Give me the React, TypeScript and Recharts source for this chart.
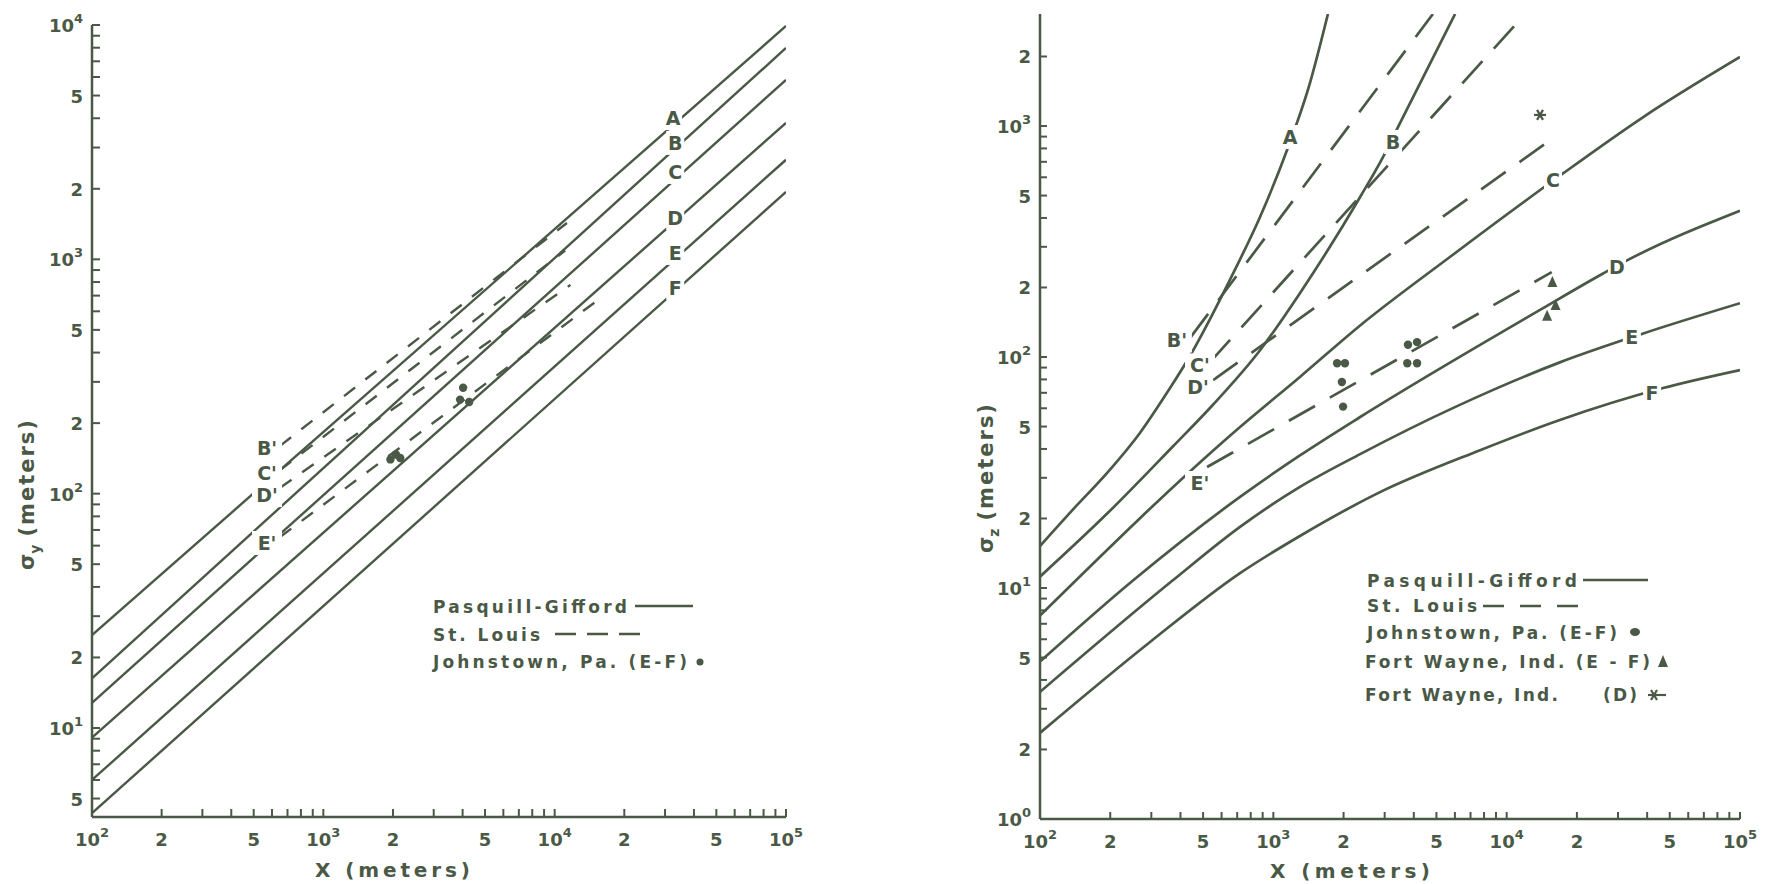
import { ComposedChart, Line, Scatter, XAxis, YAxis } from "recharts";

const INK = "#4a5946";
const FONT = "'DejaVu Sans', sans-serif";

type Pt = [number, number];

// ---- left panel: sigma_y, Pasquill-Gifford (solid) ----
const syA: Pt[] = [[100, 24.9], [100000, 9900]];
const syB: Pt[] = [[100, 16.3], [100000, 7980]];
const syC: Pt[] = [[100, 12.8], [100000, 5830]];
const syD: Pt[] = [[100, 9.1], [100000, 3820]];
const syE: Pt[] = [[100, 6.0], [100000, 2660]];
const syF: Pt[] = [[100, 4.33], [100000, 1940]];
// St. Louis (dashed)
const syB2: Pt[] = [[650, 160], [11300, 1430]];
const syC2: Pt[] = [[650, 126], [11100, 1090]];
const syD2: Pt[] = [[650, 106], [11700, 778]];
const syE2: Pt[] = [[650, 65.3], [15400, 671]];
// Johnstown, Pa. (E-F)
const syJohnstown: Pt[] = [[1950, 140], [2060, 147], [2150, 142], [4020, 283], [3900, 252], [4270, 246]];
const syLabels = [
  { x: 32500, y: 4010, t: "A" },
  { x: 33200, y: 3140, t: "B" },
  { x: 33200, y: 2360, t: "C" },
  { x: 33200, y: 1500, t: "D" },
  { x: 33200, y: 1065, t: "E" },
  { x: 33200, y: 755, t: "F" },
  { x: 571, y: 157, t: "B'" },
  { x: 571, y: 122, t: "C'" },
  { x: 571, y: 98.6, t: "D'" },
  { x: 571, y: 61.6, t: "E'" },
];

// ---- right panel: sigma_z, Pasquill-Gifford (solid) ----
const szA: Pt[] = [[100, 15.2], [138, 21.8], [194, 31.5], [268, 46.9], [350, 70], [439, 101], [552, 155], [665, 225], [877, 404], [1145, 787], [1435, 1535], [1714, 3055]];
const szB: Pt[] = [[100, 11.2], [194, 21], [371, 41], [550, 62], [877, 107], [1300, 189], [2355, 493], [2951, 734], [3490, 1030], [6010, 3055]];
const szC: Pt[] = [[100, 7.6], [720, 49.8], [1300, 82], [2355, 137], [5710, 271], [14300, 539], [17500, 625], [38500, 1094], [100000, 1990]];
const szD: Pt[] = [[100, 4.8], [251, 10.8], [720, 24.8], [1300, 37.5], [2355, 55], [13900, 160], [25900, 230], [32800, 262], [100000, 430]];
const szE: Pt[] = [[100, 3.55], [371, 10.8], [720, 18.4], [1300, 27.4], [2355, 38], [6000, 60.7], [16900, 94.8], [38500, 126.5], [100000, 171]];
const szF: Pt[] = [[100, 2.36], [300, 5.9], [720, 11.6], [1300, 16.8], [2865, 26], [7690, 39.5], [16900, 53.4], [46800, 73.4], [100000, 87.8]];
// St. Louis (dashed)
const szB2: Pt[] = [[440, 121], [4830, 3055]];
const szC2: Pt[] = [[535, 95], [12000, 3055]];
const szD2: Pt[] = [[552, 79.5], [15000, 853]];
const szE2: Pt[] = [[520, 33.4], [15600, 233]];
// observations
const szJohnstown: Pt[] = [[1876, 94], [2027, 94], [1967, 78], [1990, 61], [3776, 113], [4130, 116], [3750, 94], [4130, 94]];
const szFortWayneEF: Pt[] = [[15700, 211], [16200, 168], [14900, 151]];
const szFortWayneD: Pt[] = [[13900, 1117]];
const szLabels = [
  { x: 1180, y: 896, t: "A" },
  { x: 3260, y: 853, t: "B" },
  { x: 15800, y: 584, t: "C" },
  { x: 29700, y: 245, t: "D" },
  { x: 34400, y: 122, t: "E" },
  { x: 42000, y: 69.8, t: "F" },
  { x: 386, y: 118, t: "B'" },
  { x: 485, y: 92, t: "C'" },
  { x: 476, y: 74, t: "D'" },
  { x: 485, y: 28.5, t: "E'" },
];

// ---- ticks ----
const xTicks = [100, 200, 300, 400, 500, 600, 700, 800, 900, 1000, 2000, 3000, 4000, 5000, 6000, 7000, 8000, 9000, 10000, 20000, 30000, 40000, 50000, 60000, 70000, 80000, 90000, 100000];
const syTicks = [5, 6, 7, 8, 9, 10, 20, 30, 40, 50, 60, 70, 80, 90, 100, 200, 300, 400, 500, 600, 700, 800, 900, 1000, 2000, 3000, 4000, 5000, 6000, 7000, 8000, 9000, 10000];
const szTicks = [1, 2, 3, 4, 5, 6, 7, 8, 9, 10, 20, 30, 40, 50, 60, 70, 80, 90, 100, 200, 300, 400, 500, 600, 700, 800, 900, 1000, 2000];

const rows = (a: Pt[]) => a.map(([x, y]) => ({ x, y }));

function tickText(v: number) {
  const e = Math.floor(Math.log10(v) + 1e-9);
  const m = Math.round(v / Math.pow(10, e));
  if (m === 1) return { base: "10", sup: String(e) };
  if (m === 2 || m === 5) return { base: String(m), sup: "" };
  return null;
}

const txt = { fill: INK, fontFamily: FONT, fontWeight: "bold" as const };

function makeTicks(len: number) {
  const Bottom = ({ x, y, payload }: any) => {
    const t = tickText(payload.value);
    return (
      <g>
        <line x1={x} y1={y} x2={x} y2={y - len} stroke={INK} strokeWidth={2} />
        {t && (
          <text x={x} y={y + 29} textAnchor="middle" fontSize={18} {...txt}>
            {t.base}
            {t.sup ? <tspan dy={-9} fontSize={13}>{t.sup}</tspan> : null}
          </text>
        )}
      </g>
    );
  };
  const Left = ({ x, y, payload }: any) => {
    const t = tickText(payload.value);
    return (
      <g>
        <line x1={x} y1={y} x2={x + len} y2={y} stroke={INK} strokeWidth={2} />
        {t && (
          <text x={x - 9} y={y + 7} textAnchor="end" fontSize={18} {...txt}>
            {t.base}
            {t.sup ? <tspan dy={-9} fontSize={13}>{t.sup}</tspan> : null}
          </text>
        )}
      </g>
    );
  };
  const Top = ({ x, y }: any) => <line x1={x} y1={y} x2={x} y2={y + len} stroke={INK} strokeWidth={2} />;
  const Right = ({ x, y }: any) => <line x1={x} y1={y} x2={x - len} y2={y} stroke={INK} strokeWidth={2} />;
  return { Bottom, Left, Top, Right };
}

const Tag = (p: any) => {
  const { cx, cy, payload } = p;
  const t: string = payload.t;
  const w = t.length * 12 + 6;
  return (
    <g>
      <rect x={cx - w / 2} y={cy - 12} width={w} height={24} fill="#fff" />
      <text x={cx} y={cy + 7} textAnchor="middle" fontSize={19} {...txt}>
        {t}
      </text>
    </g>
  );
};

const Dot = (p: any) => <circle cx={p.cx} cy={p.cy} r={4.2} fill={INK} />;
const Tri = (p: any) => (
  <path d={`M${p.cx},${p.cy - 6} L${p.cx + 5},${p.cy + 5} L${p.cx - 5},${p.cy + 5} Z`} fill={INK} />
);
const Star = (p: any) => (
  <g stroke={INK} strokeWidth={2.2}>
    <line x1={p.cx - 6} y1={p.cy} x2={p.cx + 6} y2={p.cy} />
    <line x1={p.cx - 3} y1={p.cy - 5} x2={p.cx + 3} y2={p.cy + 5} />
    <line x1={p.cx + 3} y1={p.cy - 5} x2={p.cx - 3} y2={p.cy + 5} />
  </g>
);

interface PanelProps {
  left: number;
  width: number;
  top: number;
  right: number;
  yWidth: number;
  xHeight: number;
  yDomain: [number, number];
  yTicks: number[];
  solid: Pt[][];
  dashed: Pt[][];
  dash: string;
  curve: "linear" | "monotone";
  stroke: number;
  tickLen: number;
  labels: { x: number; y: number; t: string }[];
  dots: Pt[];
  tris?: Pt[];
  stars?: Pt[];
}

function Panel(p: PanelProps) {
  const tk = makeTicks(p.tickLen);
  const axisLine = { stroke: INK, strokeWidth: 2.5 };
  return (
    <div style={{ position: "absolute", left: p.left, top: 0 }}>
      <ComposedChart width={p.width} height={884} margin={{ top: p.top, right: p.right, bottom: 0, left: 0 }}>
        <XAxis dataKey="x" type="number" scale="log" domain={[100, 100000]} allowDataOverflow ticks={xTicks} interval={0} height={p.xHeight} tickSize={0} tickMargin={0} tick={tk.Bottom} axisLine={axisLine} />
        <XAxis xAxisId="top" orientation="top" type="number" scale="log" domain={[100, 100000]} allowDataOverflow ticks={xTicks} interval={0} height={0} tickSize={0} tickMargin={0} tick={tk.Top} axisLine={axisLine} />
        <YAxis dataKey="y" type="number" scale="log" domain={p.yDomain} allowDataOverflow ticks={p.yTicks} interval={0} width={p.yWidth} tickSize={0} tickMargin={0} tick={tk.Left} axisLine={axisLine} />
        <YAxis yAxisId="right" orientation="right" type="number" scale="log" domain={p.yDomain} allowDataOverflow ticks={p.yTicks} interval={0} width={0} tickSize={0} tickMargin={0} tick={tk.Right} axisLine={axisLine} />
        {p.solid.map((s, i) => (
          <Line key={"s" + i} data={rows(s)} dataKey="y" type={p.curve} stroke={INK} strokeWidth={p.stroke} dot={false} activeDot={false} isAnimationActive={false} />
        ))}
        {p.dashed.map((s, i) => (
          <Line key={"d" + i} data={rows(s)} dataKey="y" type="linear" stroke={INK} strokeWidth={p.stroke} strokeDasharray={p.dash} dot={false} activeDot={false} isAnimationActive={false} />
        ))}
        <Scatter data={rows(p.dots)} shape={Dot} isAnimationActive={false} />
        {p.tris && <Scatter data={rows(p.tris)} shape={Tri} isAnimationActive={false} />}
        {p.stars && <Scatter data={rows(p.stars)} shape={Star} isAnimationActive={false} />}
        <Scatter data={p.labels} shape={Tag} isAnimationActive={false} />
      </ComposedChart>
    </div>
  );
}

function Overlay() {
  const t = { ...txt, fontSize: 17 };
  const adj = { lengthAdjust: "spacing" as const };
  return (
    <svg width={1781} height={884} style={{ position: "absolute", left: 0, top: 0, pointerEvents: "none" }}>
      {/* axis titles */}
      <text x={315} y={877} fontSize={20} textLength={155} {...adj} {...txt}>X (meters)</text>
      <text x={1270} y={878} fontSize={20} textLength={160} {...adj} {...txt}>X (meters)</text>
      <text transform="rotate(-90)" x={-570} y={34} fontSize={21} {...txt}>
        σ<tspan dy={6} fontSize={14}>y</tspan>
        <tspan dy={-6} dx={8} letterSpacing={2}>(meters)</tspan>
      </text>
      <text transform="rotate(-90)" x={-553} y={993} fontSize={21} {...txt}>
        σ<tspan dy={6} fontSize={14}>z</tspan>
        <tspan dy={-6} dx={8} letterSpacing={2}>(meters)</tspan>
      </text>

      {/* left legend */}
      <text x={433} y={613} textLength={194} {...adj} {...t}>Pasquill-Gifford</text>
      <line x1={635} y1={606} x2={693} y2={606} stroke={INK} strokeWidth={2.4} />
      <text x={433} y={641} textLength={107} {...adj} {...t}>St. Louis</text>
      <line x1={555} y1={634} x2={640} y2={634} stroke={INK} strokeWidth={2.4} strokeDasharray="21 11" />
      <text x={433} y={668} textLength={254} {...adj} {...t}>Johnstown, Pa. (E-F)</text>
      <circle cx={700} cy={662} r={3.5} fill={INK} />

      {/* right legend */}
      <text x={1367} y={587} textLength={210} {...adj} {...t}>Pasquill-Gifford</text>
      <line x1={1583} y1={580} x2={1648} y2={580} stroke={INK} strokeWidth={2.6} />
      <text x={1367} y={612} textLength={110} {...adj} {...t}>St. Louis</text>
      <line x1={1483} y1={606} x2={1580} y2={606} stroke={INK} strokeWidth={2.6} strokeDasharray="21 16" />
      <text x={1367} y={639} textLength={250} {...adj} {...t}>Johnstown, Pa. (E-F)</text>
      <ellipse cx={1635} cy={632} rx={5} ry={4} fill={INK} />
      <text x={1365} y={668} textLength={285} {...adj} {...t}>Fort Wayne, Ind. (E - F)</text>
      <path d="M1663,655 L1668,667 L1658,667 Z" fill={INK} />
      <text x={1365} y={701} textLength={193} {...adj} {...t}>Fort Wayne, Ind.</text>
      <text x={1603} y={701} textLength={34} {...adj} {...t}>(D)</text>
      <g stroke={INK} strokeWidth={2.2}>
        <line x1={1648} y1={695} x2={1666} y2={695} />
        <line x1={1651} y1={690} x2={1657} y2={700} />
        <line x1={1657} y1={690} x2={1651} y2={700} />
      </g>
    </svg>
  );
}

export default function App() {
  return (
    <div style={{ position: "absolute", left: 0, top: 0, width: 1781, height: 884, overflow: "hidden", background: "#fff" }}>
      <Panel
        left={0}
        width={830}
        top={25}
        right={44}
        yWidth={92}
        xHeight={67}
        yDomain={[4.17, 10000]}
        yTicks={syTicks}
        solid={[syA, syB, syC, syD, syE, syF]}
        dashed={[syB2, syC2, syD2, syE2]}
        dash="14 13"
        curve="linear"
        stroke={2.4}
        tickLen={8}
        labels={syLabels}
        dots={syJohnstown}
      />
      <Panel
        left={960}
        width={821}
        top={14}
        right={41}
        yWidth={80}
        xHeight={65}
        yDomain={[1, 3055]}
        yTicks={szTicks}
        solid={[szA, szB, szC, szD, szE, szF]}
        dashed={[szB2, szC2, szD2, szE2]}
        dash="30 17"
        curve="monotone"
        stroke={2.7}
        tickLen={7}
        labels={szLabels}
        dots={szJohnstown}
        tris={szFortWayneEF}
        stars={szFortWayneD}
      />
      <Overlay />
    </div>
  );
}
